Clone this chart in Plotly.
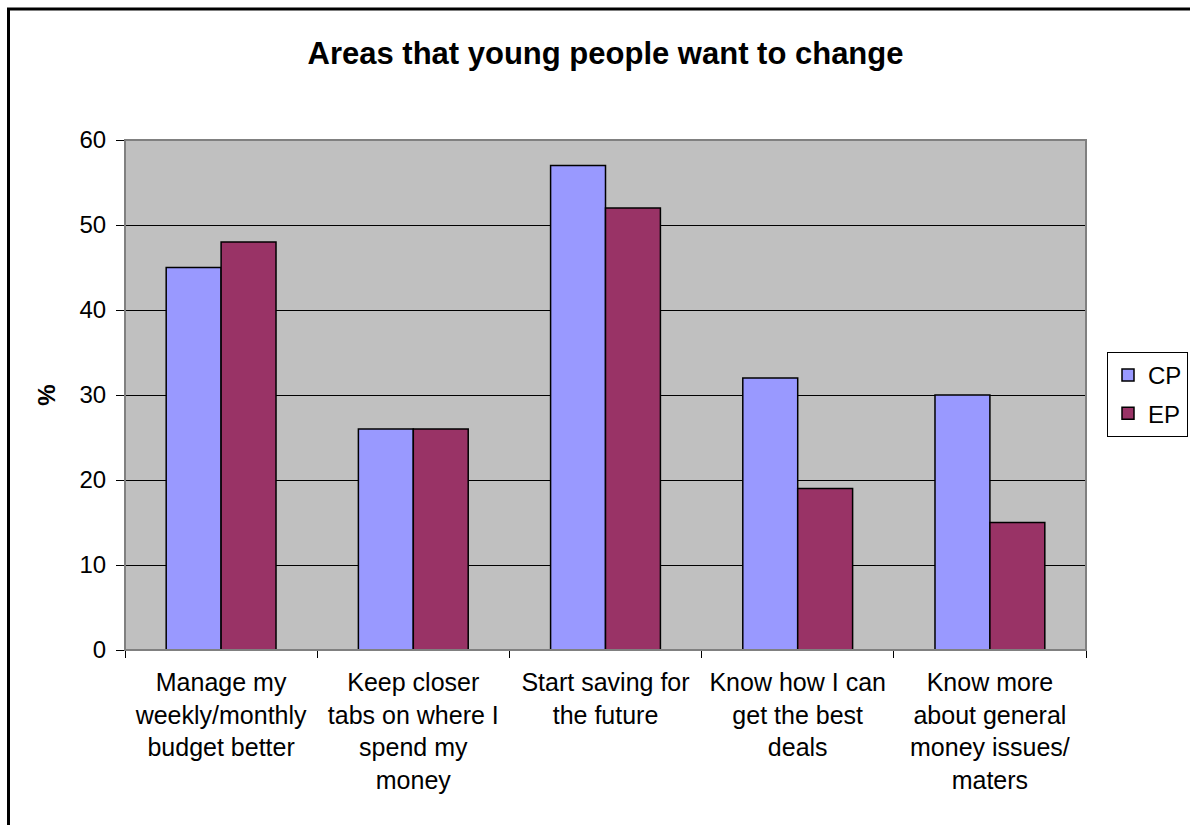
import plotly.graph_objects as go

categories = [
    "Manage my<br>weekly/monthly<br>budget better",
    "Keep closer<br>tabs on where I<br>spend my<br>money",
    "Start saving for<br>the future",
    "Know how I can<br>get the best<br>deals",
    "Know more<br>about general<br>money issues/<br>maters",
]
cp_values = [45, 26, 57, 32, 30]
ep_values = [48, 26, 52, 19, 15]
y_ticks = [0, 10, 20, 30, 40, 50, 60]

FONT = "Liberation Sans, Arial, sans-serif"

fig = go.Figure()
fig.add_trace(go.Bar(name="CP", x=categories, y=cp_values, legendgroup="cp",
                     marker=dict(color="#9999FF", line=dict(color="black", width=1.5))))
fig.add_trace(go.Bar(name="EP", x=categories, y=ep_values, legendgroup="ep",
                     marker=dict(color="#993366", line=dict(color="black", width=1.5))))

W, H = 1190, 825
L, R, T, B = 125, 104, 140, 175
pw, ph = W - L - R, H - T - B

def px2x(px):
    return (px - L) / pw

def py2y(py):
    return (H - B - py) / ph

fig.update_layout(
    width=W, height=H,
    margin=dict(l=L, r=R, t=T, b=B, pad=0, autoexpand=False),
    paper_bgcolor="white",
    plot_bgcolor="#C0C0C0",
    barmode="group",
    bargap=0.4286,
    bargroupgap=0,
    font=dict(family=FONT, size=25, color="black"),
    title=dict(text="<b>Areas that young people want to change</b>",
               x=0.5, xref="paper", xanchor="center",
               y=1 - 53 / H, yref="container", yanchor="middle",
               font=dict(family=FONT, size=31, color="black")),
    legend=dict(x=px2x(1107), y=py2y(352), xanchor="left", yanchor="top",
                bgcolor="white", bordercolor="black", borderwidth=1,
                font=dict(family=FONT, size=24, color="black"),
                traceorder="grouped", tracegroupgap=4,
                itemwidth=30),
    showlegend=True,
    xaxis=dict(
        type="category",
        showline=True, linecolor="black", linewidth=1,
        ticks="outside", ticklen=7, tickcolor="black", tickwidth=1,
        tickson="boundaries",
        showgrid=False,
        ticklabelstandoff=10,
        tickfont=dict(family=FONT, size=25, color="black"),
    ),
    yaxis=dict(
        range=[0, 60],
        tickvals=y_ticks,
        showline=True, linecolor="black", linewidth=1,
        ticks="outside", ticklen=8, tickcolor="black", tickwidth=1,
        showgrid=True, gridcolor="black", gridwidth=1,
        zeroline=False,
        ticklabelstandoff=5,
        tickfont=dict(family=FONT, size=24, color="black"),
        title=dict(text="<b>%</b>", font=dict(family=FONT, size=24, color="black"), standoff=17),
    ),
    shapes=[
        dict(type="rect", xref="paper", yref="paper", x0=0, x1=1, y0=0, y1=1,
             line=dict(color="#808080", width=2), fillcolor="rgba(0,0,0,0)", layer="above"),
        dict(type="rect", xref="paper", yref="paper",
             x0=px2x(8.5), x1=px2x(1210), y0=py2y(850), y1=py2y(9),
             line=dict(color="black", width=3), fillcolor="rgba(0,0,0,0)", layer="above"),
    ],
)

fig.write_html("out.html",
               config={"displayModeBar": False},
               post_script="document.body.style.margin='0';document.body.style.overflow='hidden';")
